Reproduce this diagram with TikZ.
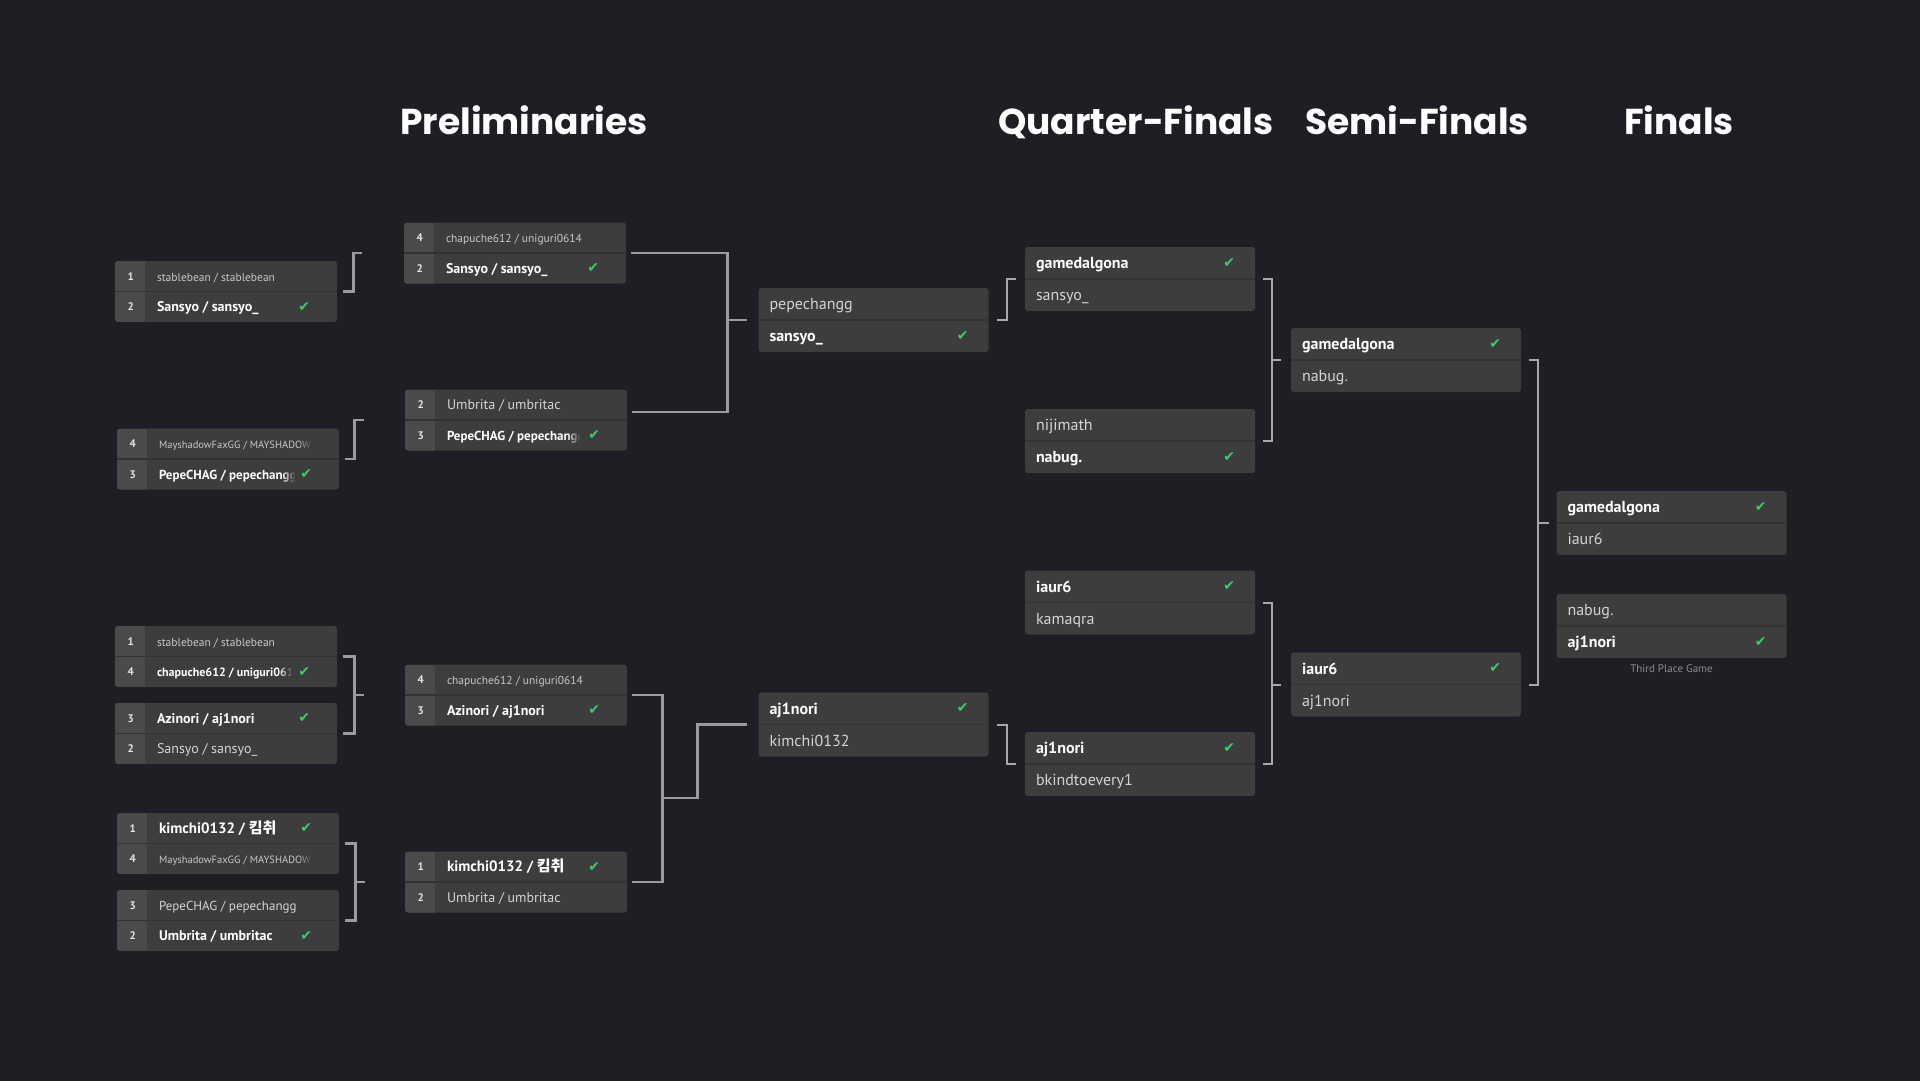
\documentclass[tikz,border=0pt]{standalone}
\usepackage{fontspec}
\setmainfont{PT Sans}
\newfontfamily\titlefont{Poppins}
\newfontfamily\krfont{Noto Sans CJK KR}
\newfontfamily\symfont{DejaVu Sans}
\usetikzlibrary{calc,positioning,fadings}

\definecolor{pagebg}{HTML}{1E1F24}
\definecolor{boxbg}{HTML}{3D3D3D}
\definecolor{seedbg}{HTML}{4A4A4A}
\definecolor{rowline}{HTML}{333333}
\definecolor{wintext}{HTML}{FFFFFF}
\definecolor{losetext}{HTML}{D4D4D4}
\definecolor{smalltext}{HTML}{C8C8C8}
\definecolor{seedtext}{HTML}{E6E6E6}
\definecolor{tickgreen}{HTML}{3CCB6C}
\definecolor{linkgray}{HTML}{9C9C9C}
\definecolor{linkgray2}{HTML}{A8A8A8}
\definecolor{notegray}{HTML}{8C8C8C}

\tikzfading[name=fadein, left color=transparent!100, right color=transparent!0]

% preliminary row: match, row, seed, style, name
\newcommand{\pteam}[5]{%
  \node[seednum] (#1s#2) at ($(#1.north west)+(16,{30.5*#2-11})$) {#3};
  \node[#4] (#1n#2) at ($(#1.north west)+(42,{30.5*#2-10})$) {#5};}
% bracket row: match, row, style, name
\newcommand{\bteam}[4]{%
  \node[#3] (#1n#2) at ($(#1.north west)+(11,{32*#2-10})$) {#4};}
\newcommand{\ptick}[2]{\node[tickmark] (#1t) at ($(#1.north east)+(-33,{30.5*#2-15})$) {✔};}
\newcommand{\btick}[2]{\node[tickmark] (#1t) at ($(#1.north east)+(-26,{32*#2-16})$) {✔};}
% cut a long name: match, row, inset from the right edge
\newcommand{\pfade}[3]{%
  \fill[boxbg, path fading=fadein] ($(#1.north east)+({-#3-14},{30.5*#2-29.5})$) rectangle ($(#1.north east)+(-#3,{30.5*#2-1.5})$);
  \fill[boxbg] ($(#1.north east)+(-#3,{30.5*#2-29.5})$) rectangle ($(#1.north east)+(-3,{30.5*#2-1.5})$);}

\begin{document}
\begin{tikzpicture}[
x=1pt, y=-1pt,
prelimbox/.style={
fill=boxbg,
rounded corners=3pt,
inner sep=0pt,
minimum width=222pt,
minimum height=61pt,
path picture={
\fill[seedbg, sharp corners] (path picture bounding box.north west) rectangle ([xshift=30pt]path picture bounding box.south west);
\draw[rowline, line width=1.2pt, sharp corners] (path picture bounding box.west) -- (path picture bounding box.east);
}
},
bracketbox/.style={
fill=boxbg,
rounded corners=3pt,
inner sep=0pt,
minimum width=230pt,
minimum height=64pt,
path picture={
\draw[rowline, line width=1.2pt, sharp corners] (path picture bounding box.west) -- (path picture bounding box.east);
}
},
entry/.style={anchor=base west, inner sep=0pt},
pwin/.style={entry, text=wintext, font=\bfseries\fontsize{14}{16}\selectfont},
pwinbig/.style={entry, text=wintext, font=\bfseries\fontsize{15}{17}\selectfont},
pwinmid/.style={entry, text=wintext, font=\bfseries\fontsize{13}{15}\selectfont},
pwinsm/.style={entry, text=wintext, font=\bfseries\fontsize{12}{14}\selectfont},
plose/.style={entry, text=losetext, font=\fontsize{14}{16}\selectfont},
plosesm/.style={entry, text=losetext, font=\fontsize{13}{15}\selectfont},
psmall/.style={entry, text=smalltext, font=\fontsize{11.5}{13}\selectfont},
ptiny/.style={entry, text=smalltext, font=\fontsize{10.5}{12}\selectfont},
bwin/.style={entry, text=wintext, font=\bfseries\fontsize{16}{18}\selectfont},
blose/.style={entry, text=losetext, font=\fontsize{16}{18}\selectfont},
seednum/.style={anchor=base, inner sep=0pt, text=seedtext, font=\bfseries\fontsize{11}{13}\selectfont},
tickmark/.style={inner sep=0pt, text=tickgreen, font=\symfont\fontsize{14}{14}\selectfont},
heading/.style={anchor=base, text=white, font=\titlefont\bfseries\fontsize{36}{40}\selectfont},
note/.style={text=notegray, inner sep=0pt, font=\fontsize{11}{13}\selectfont},
link/.style={draw=linkgray, line width=2.6pt},
thinlink/.style={draw=linkgray2, line width=2pt}
]
\useasboundingbox (0,0) rectangle (1920,1080);
\fill[pagebg] (-10,-10) rectangle (1930,1090);

% round headings
\node[heading] (hprelim) at (524,134.5) {Preliminaries};
\node[heading] (hquarter) at (1136,134.5) {Quarter-Finals};
\node[heading] (hsemi) at (1417,134.5) {Semi-Finals};
\node[heading] (hfinal) at (1679,134.5) {Finals};

% preliminaries, first column
\node[prelimbox] (a1) at (226,291.5) {};
\node[prelimbox] (a2) at (228,459) {};
\node[prelimbox] (a3) at (226,656.5) {};
\node[prelimbox] (a4) at (226,733.5) {};
\node[prelimbox] (a5) at (228,843.5) {};
\node[prelimbox] (a6) at (228,920.5) {};
% preliminaries, second column
\node[prelimbox] (b1) at (515,253) {};
\node[prelimbox] (b2) at (516,420) {};
\node[prelimbox] (b3) at (516,695) {};
\node[prelimbox] (b4) at (516,882) {};
% bracket
\node[bracketbox] (c1) at (873.5,320) {};
\node[bracketbox] (c2) at (873.5,724.5) {};
\node[bracketbox] (d1) at (1140,279) {};
\node[bracketbox] (d2) at (1140,441) {};
\node[bracketbox] (d3) at (1140,602.5) {};
\node[bracketbox] (d4) at (1140,764) {};
\node[bracketbox] (e1) at (1406,360) {};
\node[bracketbox] (e2) at (1406,684.5) {};
\node[bracketbox] (f1) at (1671.5,523) {};
\node[bracketbox] (f2) at (1671.5,626) {};

\pteam{a1}{1}{1}{psmall}{stablebean / stablebean}
\pteam{a1}{2}{2}{pwin}{Sansyo / sansyo\_}
\ptick{a1}{2}
\pteam{a2}{1}{4}{ptiny}{MayshadowFaxGG / MAYSHADOW}
\pteam{a2}{2}{3}{pwinmid}{PepeCHAG / pepechangg}
\pfade{a2}{1}{27}
\pfade{a2}{2}{44}
\ptick{a2}{2}
\pteam{a3}{1}{1}{psmall}{stablebean / stablebean}
\pteam{a3}{2}{4}{pwinsm}{chapuche612 / uniguri0614}
\pfade{a3}{2}{45}
\ptick{a3}{2}
\pteam{a4}{1}{3}{pwin}{Azinori / aj1nori}
\ptick{a4}{1}
\pteam{a4}{2}{2}{plose}{Sansyo / sansyo\_}
\pteam{a5}{1}{1}{pwinbig}{kimchi0132 / {\krfont 킴취}}
\ptick{a5}{1}
\pteam{a5}{2}{4}{ptiny}{MayshadowFaxGG / MAYSHADOW}
\pfade{a5}{2}{27}
\pteam{a6}{1}{3}{plosesm}{PepeCHAG / pepechangg}
\pteam{a6}{2}{2}{pwin}{Umbrita / umbritac}
\ptick{a6}{2}

\pteam{b1}{1}{4}{psmall}{chapuche612 / uniguri0614}
\pteam{b1}{2}{2}{pwin}{Sansyo / sansyo\_}
\ptick{b1}{2}
\pteam{b2}{1}{2}{plose}{Umbrita / umbritac}
\pteam{b2}{2}{3}{pwinmid}{PepeCHAG / pepechangg}
\pfade{b2}{2}{47}
\ptick{b2}{2}
\pteam{b3}{1}{4}{psmall}{chapuche612 / uniguri0614}
\pteam{b3}{2}{3}{pwin}{Azinori / aj1nori}
\ptick{b3}{2}
\pteam{b4}{1}{1}{pwinbig}{kimchi0132 / {\krfont 킴취}}
\ptick{b4}{1}
\pteam{b4}{2}{2}{plose}{Umbrita / umbritac}

\bteam{c1}{1}{blose}{pepechangg}
\bteam{c1}{2}{bwin}{sansyo\_}
\btick{c1}{2}
\bteam{c2}{1}{bwin}{aj1nori}
\btick{c2}{1}
\bteam{c2}{2}{blose}{kimchi0132}
\bteam{d1}{1}{bwin}{gamedalgona}
\btick{d1}{1}
\bteam{d1}{2}{blose}{sansyo\_}
\bteam{d2}{1}{blose}{nijimath}
\bteam{d2}{2}{bwin}{nabug.}
\btick{d2}{2}
\bteam{d3}{1}{bwin}{iaur6}
\btick{d3}{1}
\bteam{d3}{2}{blose}{kamaqra}
\bteam{d4}{1}{bwin}{aj1nori}
\btick{d4}{1}
\bteam{d4}{2}{blose}{bkindtoevery1}
\bteam{e1}{1}{bwin}{gamedalgona}
\btick{e1}{1}
\bteam{e1}{2}{blose}{nabug.}
\bteam{e2}{1}{bwin}{iaur6}
\btick{e2}{1}
\bteam{e2}{2}{blose}{aj1nori}
\bteam{f1}{1}{bwin}{gamedalgona}
\btick{f1}{1}
\bteam{f1}{2}{blose}{iaur6}
\bteam{f2}{1}{blose}{nabug.}
\bteam{f2}{2}{bwin}{aj1nori}
\btick{f2}{2}
\node[note, below=6pt of f2] (third) {Third Place Game};

% preliminary links
\draw[link] ([xshift=6pt]a1.east) -- ++(10,0) |- ([xshift=-42pt]b1.west);
\draw[link] ([xshift=6pt]a2.east) -- ++(9,0) |- ([xshift=-41pt]b2.west);
\draw[link] ([xshift=6pt]a3.east) -| ([xshift=17pt]a4.east) -- ([xshift=6pt]a4.east);
\draw[link] ([xshift=-51pt]b3.west) -- ([xshift=-41pt]b3.west);
\draw[link] ([xshift=6pt]a5.east) -| ([xshift=16pt]a6.east) -- ([xshift=6pt]a6.east);
\draw[link] ([xshift=-50pt]b4.west) -- ([xshift=-40pt]b4.west);
\draw[link] ([xshift=5pt]b1.east) -| ([xshift=100pt,yshift=8pt]b2.east) -- ([xshift=5pt,yshift=8pt]b2.east);
\draw[link] ([xshift=-32pt]c1.west) -- ([xshift=-11pt]c1.west);
\draw[link] ([xshift=5pt]b3.east) -| ([xshift=35pt]b4.east) -- ([xshift=5pt]b4.east);
\coordinate (j2) at ($(b3.east)!0.55!(b4.east)+(35,0)$);
\draw[link] (j2) -- ++(35,0) |- ([xshift=-11pt]c2.west);

% bracket links
\draw[thinlink] ([xshift=8pt]c1.east) -- ++(10,0) |- ([xshift=-9pt]d1.west);
\draw[thinlink] ([xshift=8pt]c2.east) -- ++(10,0) |- ([xshift=-9pt]d4.west);
\draw[thinlink] ([xshift=8pt]d1.east) -| ([xshift=17pt]d2.east) -- ([xshift=8pt]d2.east);
\draw[thinlink] ([xshift=-19pt]e1.west) -- ([xshift=-10pt]e1.west);
\draw[thinlink] ([xshift=8pt]d3.east) -| ([xshift=17pt]d4.east) -- ([xshift=8pt]d4.east);
\draw[thinlink] ([xshift=-19pt]e2.west) -- ([xshift=-10pt]e2.west);
\draw[thinlink] ([xshift=8pt]e1.east) -| ([xshift=17pt]e2.east) -- ([xshift=8pt]e2.east);
\draw[thinlink] ([xshift=-18pt]f1.west) -- ([xshift=-7pt]f1.west);
\end{tikzpicture}
\end{document}
